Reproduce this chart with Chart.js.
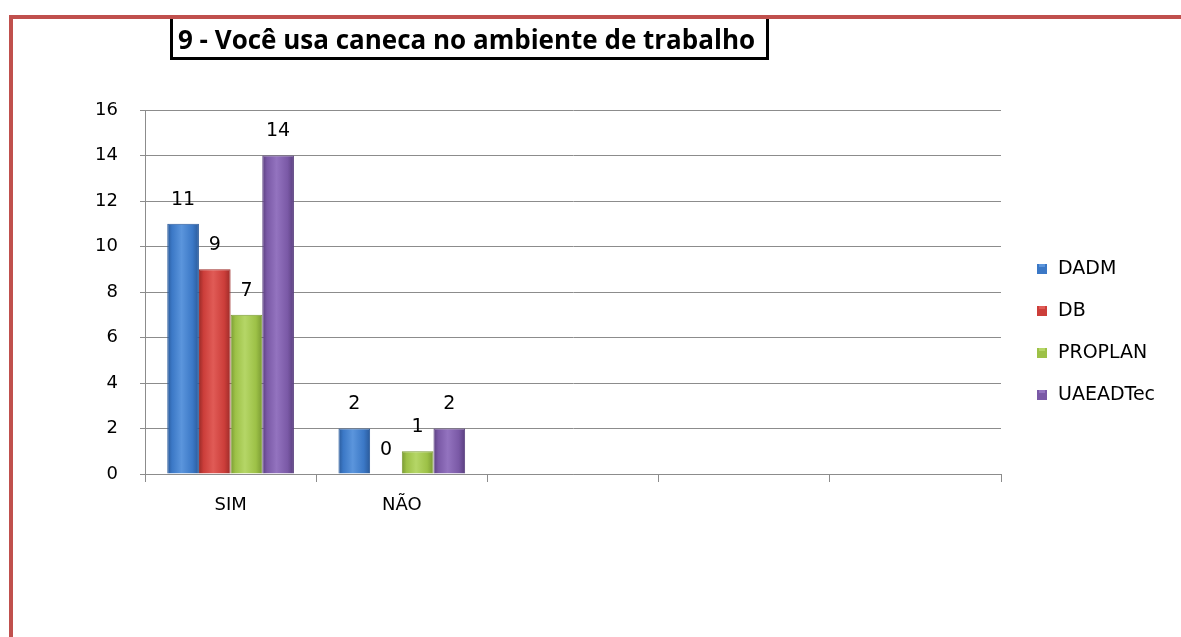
<!DOCTYPE html>
<html>
<head>
<meta charset="utf-8">
<script src="https://cdn.jsdelivr.net/npm/chart.js@4"></script>
<style>
  body { margin: 0; background: #fff; }
  #wrap { position: relative; width: 1181px; height: 637px; overflow: hidden; }
  #frameTop { position: absolute; left: 9px; top: 15px; width: 1172px; height: 4px; background: #c0504d; }
  #frameLeft { position: absolute; left: 9px; top: 15px; width: 4px; height: 622px; background: #c0504d; }
  #titulo {
    position: absolute; left: 170px; top: 19px; width: 588px; height: 38px;
    border: 3px solid #000; border-top: none;
    font: bold 26px "Open Sans", sans-serif; color: #000;
    padding-left: 5px; line-height: 40px; box-sizing: content-box; white-space: nowrap;
  }
  canvas { position: absolute; left: 0; top: 0; }
</style>
</head>
<body>
<div id="wrap">
  <canvas id="grafico" width="1181" height="637"></canvas>
  <div id="frameTop"></div>
  <div id="frameLeft"></div>
  <div id="titulo">9 - Você usa caneca no ambiente de trabalho</div>
</div>
<script>
// dados
const categorias = ['SIM', 'NÃO', '', '', ''];
const dadm = [11, 2, null, null, null];
const db = [9, 0, null, null, null];
const proplan = [7, 1, null, null, null];
const uaeadtec = [14, 2, null, null, null];
const ticksY = [0, 2, 4, 6, 8, 10, 12, 14, 16];

const fonte = '"DejaVu Sans", sans-serif';

// cores: base, escura, clara
const cores = {
  DADM: ['#3b78c6', '#2a5a9a', '#5b95dc'],
  DB: ['#cc3e3a', '#9c2b28', '#e05b56'],
  PROPLAN: ['#9dc147', '#7a9a33', '#b5d667'],
  UAEADTec: ['#7a59a6', '#5a3f7f', '#9373bf']
};

// gradiente horizontal por barra (usa a posição da própria barra)
function relevo(nome) {
  return ctx => {
    const c = cores[nome];
    const el = ctx.element;
    if (!el || el.x === undefined || !el.width) return c[0];
    const x0 = el.x - el.width / 2, x1 = el.x + el.width / 2;
    const g = ctx.chart.ctx.createLinearGradient(x0, 0, x1, 0);
    g.addColorStop(0, c[1]);
    g.addColorStop(0.15, c[0]);
    g.addColorStop(0.45, c[2]);
    g.addColorStop(0.8, c[0]);
    g.addColorStop(1, c[1]);
    return g;
  };
}

// rótulos acima das barras
const rotulos = {
  id: 'rotulos',
  afterDatasetsDraw(chart) {
    const ctx = chart.ctx;
    ctx.save();
    ctx.font = '19px ' + fonte;
    ctx.fillStyle = '#000';
    ctx.textAlign = 'center';
    ctx.textBaseline = 'middle';
    chart.data.datasets.forEach((ds, i) => {
      chart.getDatasetMeta(i).data.forEach((bar, j) => {
        if (ds.data[j] === null) return;
        ctx.fillText(ds.data[j], bar.x, bar.y - 24);
      });
    });
    ctx.restore();
  }
};

// legenda desenhada à mão
const legenda = {
  id: 'legenda',
  afterDraw(chart) {
    const ctx = chart.ctx;
    ctx.save();
    ctx.font = '19px ' + fonte;
    ctx.textBaseline = 'middle';
    chart.data.datasets.forEach((ds, i) => {
      const y = 269 + i * 42;
      const c = cores[ds.label];
      ctx.fillStyle = c[0];
      ctx.fillRect(1037, y - 5, 10, 10);
      ctx.fillStyle = c[2];
      ctx.fillRect(1039, y - 5, 6, 3);
      ctx.fillStyle = '#000';
      ctx.fillText(ds.label, 1058, y);
    });
    ctx.restore();
  }
};

const grafico = new Chart(document.getElementById('grafico').getContext('2d'), {
  type: 'bar',
  data: {
    labels: categorias,
    datasets: [
      { label: 'DADM', data: dadm, backgroundColor: relevo('DADM'), borderColor: cores.DADM[1], borderWidth: 1 },
      { label: 'DB', data: db, backgroundColor: relevo('DB'), borderColor: cores.DB[1], borderWidth: 1 },
      { label: 'PROPLAN', data: proplan, backgroundColor: relevo('PROPLAN'), borderColor: cores.PROPLAN[1], borderWidth: 1 },
      { label: 'UAEADTec', data: uaeadtec, backgroundColor: relevo('UAEADTec'), borderColor: cores.UAEADTec[1], borderWidth: 1 },
    ]
  },
  options: {
    responsive: false,
    animation: false,
    layout: { padding: { left: 0, right: 180, top: 110, bottom: 0 } },
    categoryPercentage: 0.74,
    barPercentage: 1,
    plugins: {
      legend: { display: false },
      tooltip: { enabled: false }
    },
    scales: {
      x: {
        afterFit: s => { s.height = 163; },
        grid: { drawOnChartArea: false, offset: true, tickLength: 8, color: '#8c8c8c' },
        border: { color: '#8c8c8c' },
        ticks: { color: '#000', font: { size: 18, family: fonte }, padding: 13 }
      },
      y: {
        min: 0,
        max: 16,
        afterFit: s => { s.width = 145; },
        afterBuildTicks: s => { s.ticks = ticksY.map(v => ({ value: v })); },
        grid: { color: '#8c8c8c', tickLength: 5 },
        border: { color: '#8c8c8c' },
        ticks: { color: '#000', font: { size: 18, family: fonte }, padding: 22 }
      }
    }
  },
  plugins: [rotulos, legenda]
});
// segunda passagem para que os gradientes conheçam a posição das barras
grafico.update('none');
</script>
</body>
</html>
